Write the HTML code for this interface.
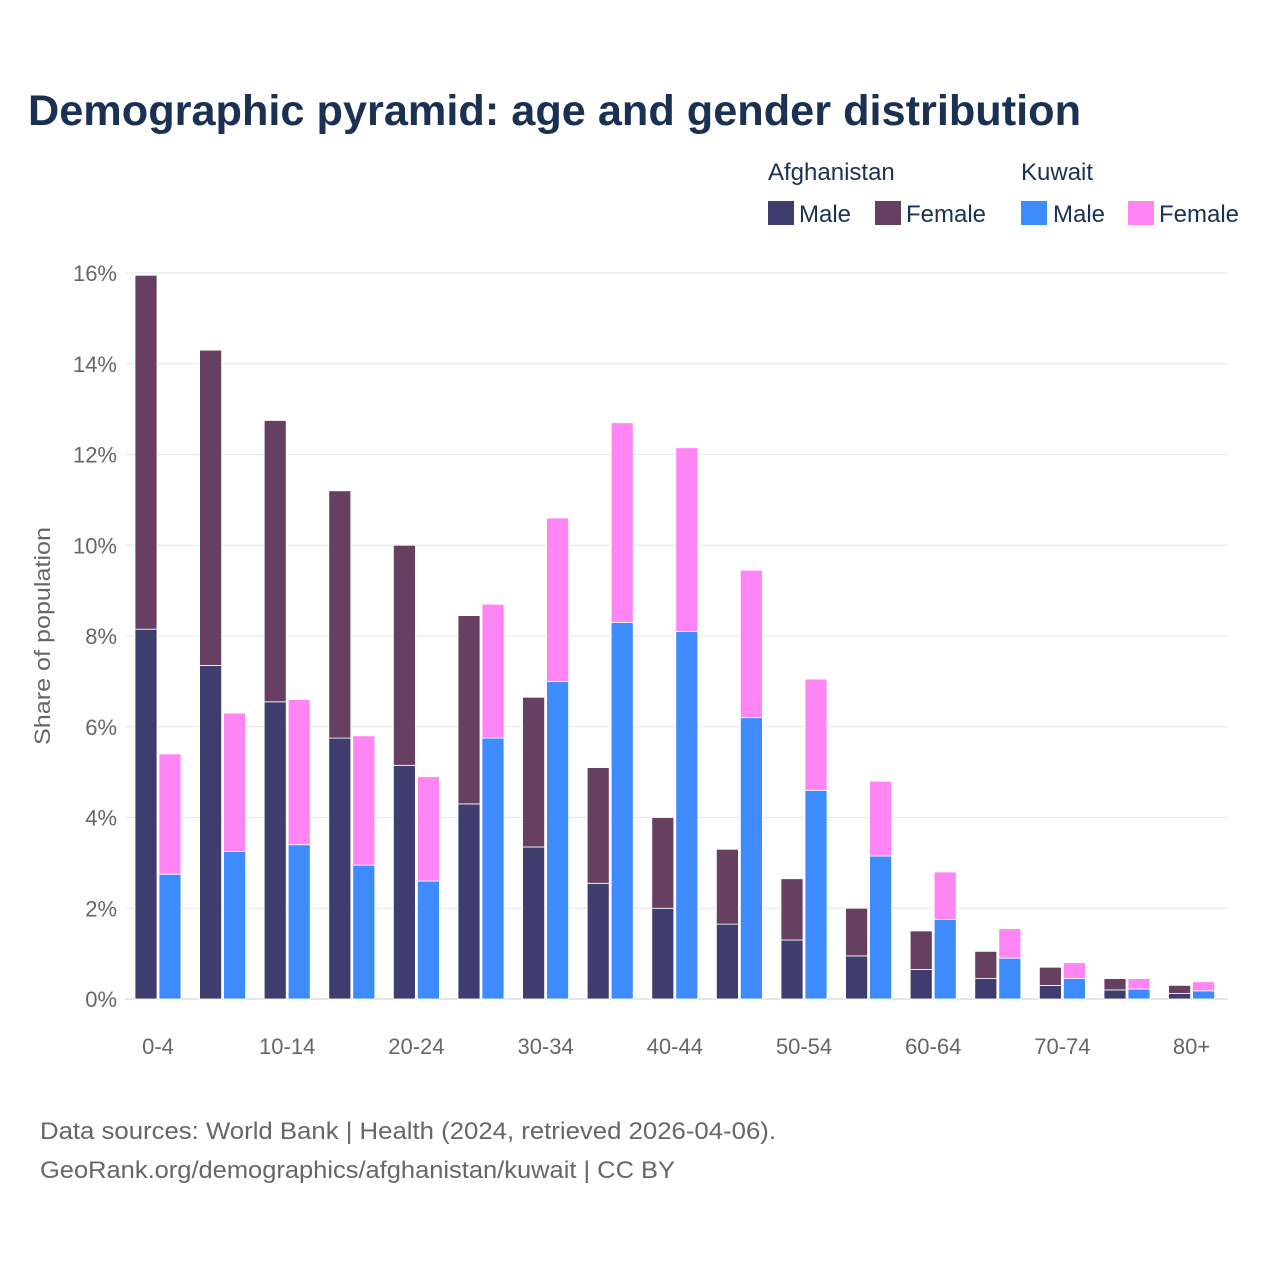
<!DOCTYPE html>
<html><head><meta charset="utf-8"><style>
body{margin:0;background:#fff;font-family:"Liberation Sans",sans-serif;}
</style></head><body>
<svg id="c" width="1280" height="1280" xmlns="http://www.w3.org/2000/svg">
<text x="28" y="125" font-size="43" font-weight="bold" fill="#1b3153" textLength="1053" lengthAdjust="spacingAndGlyphs">Demographic pyramid: age and gender distribution</text>
<g font-size="24" fill="#1b3153">
<text x="768" y="180">Afghanistan</text>
<text x="1021" y="180">Kuwait</text>
<rect x="768" y="201" width="26" height="24" fill="#3f3d6e"/>
<text x="799" y="222">Male</text>
<rect x="875" y="201" width="26" height="24" fill="#673f60"/>
<text x="906" y="222">Female</text>
<rect x="1021" y="201" width="26" height="24" fill="#3d8bfd"/>
<text x="1053" y="222">Male</text>
<rect x="1128" y="201" width="26" height="24" fill="#ff85f5"/>
<text x="1159" y="222">Female</text>
</g>
<g id="grid"></g><g id="bars"></g><g id="xl"></g>
<text transform="translate(50,636) rotate(-90)" text-anchor="middle" font-size="22" fill="#666" textLength="218" lengthAdjust="spacingAndGlyphs">Share of population</text>
<text x="40" y="1139" font-size="24" fill="#666" textLength="736" lengthAdjust="spacingAndGlyphs">Data sources: World Bank | Health (2024, retrieved 2026-04-06).</text>
<text x="40" y="1178" font-size="24" fill="#666" textLength="635" lengthAdjust="spacingAndGlyphs">GeoRank.org/demographics/afghanistan/kuwait | CC BY</text>
</svg>
<script>
const categories=["0-4","5-9","10-14","15-19","20-24","25-29","30-34","35-39","40-44","45-49","50-54","55-59","60-64","65-69","70-74","75-79","80+"];
const afgMale=[8.15,7.35,6.55,5.75,5.15,4.3,3.35,2.55,2.0,1.65,1.3,0.95,0.65,0.45,0.3,0.2,0.12];
const afgFemale=[7.8,6.95,6.2,5.45,4.85,4.15,3.3,2.55,2.0,1.65,1.35,1.05,0.85,0.6,0.4,0.25,0.18];
const kwtMale=[2.75,3.25,3.4,2.95,2.6,5.75,7.0,8.3,8.1,6.2,4.6,3.15,1.75,0.9,0.45,0.22,0.18];
const kwtFemale=[2.65,3.05,3.2,2.85,2.3,2.95,3.6,4.4,4.05,3.25,2.45,1.65,1.05,0.65,0.35,0.23,0.2];
const yTicks=[0,2,4,6,8,10,12,14,16];
const xLabelIdx=[0,2,4,6,8,10,12,14,16];
const NS="http://www.w3.org/2000/svg";
const y=v=>999-v*(726/16);
const gx=i=>135+i*64.6;
function el(t,a,p){const e=document.createElementNS(NS,t);for(const k in a)e.setAttribute(k,a[k]);document.getElementById(p).appendChild(e);return e;}
yTicks.forEach(t=>{
 const l=el('line',{x1:125,x2:1228,y1:y(t),y2:y(t),stroke:t===0?'#ccc':'#e6e6e6','stroke-width':1},'grid');
 
 
 const tx=el('text',{x:117,y:y(t)+8,'text-anchor':'end','font-size':22,fill:'#666'},'grid');
 tx.textContent=t+'%';
 
 
});
function bar(x,v0,v1,fill,name){
 const r=el('rect',{x:x,y:y(v1),width:22,height:Math.max(0,y(v0)-y(v1)),fill:fill,stroke:'#fff','stroke-width':0.8},'bars');
 
 
}
categories.forEach((c,i)=>{
 const x=gx(i);
 bar(x,0,afgMale[i],'#3f3d6e','bar-afghanistan-male-'+c);
 bar(x,afgMale[i],afgMale[i]+afgFemale[i],'#673f60','bar-afghanistan-female-'+c);
 bar(x+24,0,kwtMale[i],'#3d8bfd','bar-kuwait-male-'+c);
 bar(x+24,kwtMale[i],kwtMale[i]+kwtFemale[i],'#ff85f5','bar-kuwait-female-'+c);
});
xLabelIdx.forEach(i=>{
 const t=el('text',{x:gx(i)+23,y:1054,'text-anchor':'middle','font-size':22,fill:'#666'},'xl');
 t.textContent=categories[i];
 
 
});
</script>
</body></html>
